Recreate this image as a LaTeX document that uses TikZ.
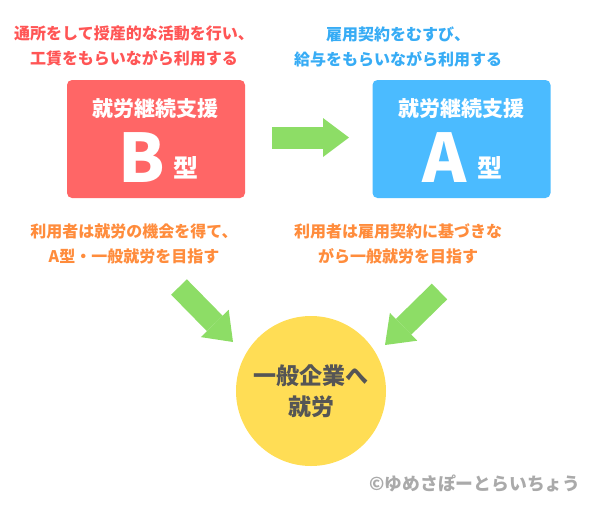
\documentclass[tikz,border=0pt]{standalone}
\usepackage{fontspec}
\setmainfont{Noto Sans CJK JP}
\usetikzlibrary{arrows.meta}
\definecolor{boxred}{RGB}{255,102,102}
\definecolor{textred}{RGB}{255,85,85}
\definecolor{boxblue}{RGB}{75,187,255}
\definecolor{textblue}{RGB}{55,172,245}
\definecolor{noteorange}{RGB}{255,140,60}
\definecolor{arrowgreen}{RGB}{141,221,102}
\definecolor{goalyellow}{RGB}{255,221,85}
\definecolor{goaltext}{RGB}{85,85,85}
\definecolor{markgray}{RGB}{170,170,170}
\begin{document}
\begin{tikzpicture}[x=1pt,y=-1pt, line join=round,
	bigarrow/.style={arrowgreen, line width=22pt, -{Triangle[width=39pt,length=26pt,line width=0pt]}},
	typebox/.style={rounded corners=5pt, minimum width=178pt, minimum height=118pt, inner sep=0pt},
	note/.style={align=center, font=\fontsize{16}{25}\selectfont\bfseries}]
			\useasboundingbox (0,0) rectangle (605,507);
			% the two type boxes
			\node[typebox, fill=boxred] (typeB) at (156,139) {};
			\node[typebox, fill=boxblue] (typeA) at (461.5,139) {};
			\node[white, font=\fontsize{21}{21}\selectfont\bfseries] (titleB) at (155.5,109) {就労継続支援};
			\node[white, font=\fontsize{21}{21}\selectfont\bfseries] (titleA) at (461,109) {就労継続支援};
			\node[white, font=\fontsize{67}{67}\selectfont\bfseries, inner sep=0pt] (letterB) at (141.5,157.5) {B};
			\node[white, font=\fontsize{25}{25}\selectfont\bfseries, inner sep=0pt] (kataB) at (185.5,167.5) {型};
			\node[white, font=\fontsize{67}{67}\selectfont\bfseries, inner sep=0pt] (letterA) at (445,157.5) {A};
			\node[white, font=\fontsize{25}{25}\selectfont\bfseries, inner sep=0pt] (kataA) at (490,167.5) {型};
			% notes above and below
			\node[note, textred] (topB) at (134,46) {通所をして授産的な活動を行い、\\工賃をもらいながら利用する};
			\node[note, textblue] (topA) at (398,47) {雇用契約をむすび、\\給与をもらいながら利用する};
			\node[note, noteorange] (lowB) at (134,243.5) {利用者は就労の機会を得て、\\A型・一般就労を目指す};
			\node[note, noteorange] (lowA) at (398,243.5) {利用者は雇用契約に基づきな\\がら一般就労を目指す};
			% goal circle
			\node[circle, fill=goalyellow, minimum size=150pt, inner sep=0pt, align=center,
				text=goaltext, font=\fontsize{23}{31}\selectfont\bfseries] (goal) at (311,391) {一般企業へ\\就労};
			% green arrows
			\coordinate (bt) at (272,137.5); \coordinate (bh) at (349,137.5);
			\coordinate (lt) at (179,287); \coordinate (lh) at (233,342);
			\coordinate (rt) at (439.5,291.5); \coordinate (rh) at (385,345);
			\foreach \a/\b in {bt/bh,lt/lh,rt/rh}
			{\draw[bigarrow] (\a)--(\b);}
			\node[markgray, font=\fontsize{17.8}{17.8}\selectfont\bfseries] (mark) at (475,484) {©ゆめさぽーとらいちょう};
	\end{tikzpicture}
\end{document}
